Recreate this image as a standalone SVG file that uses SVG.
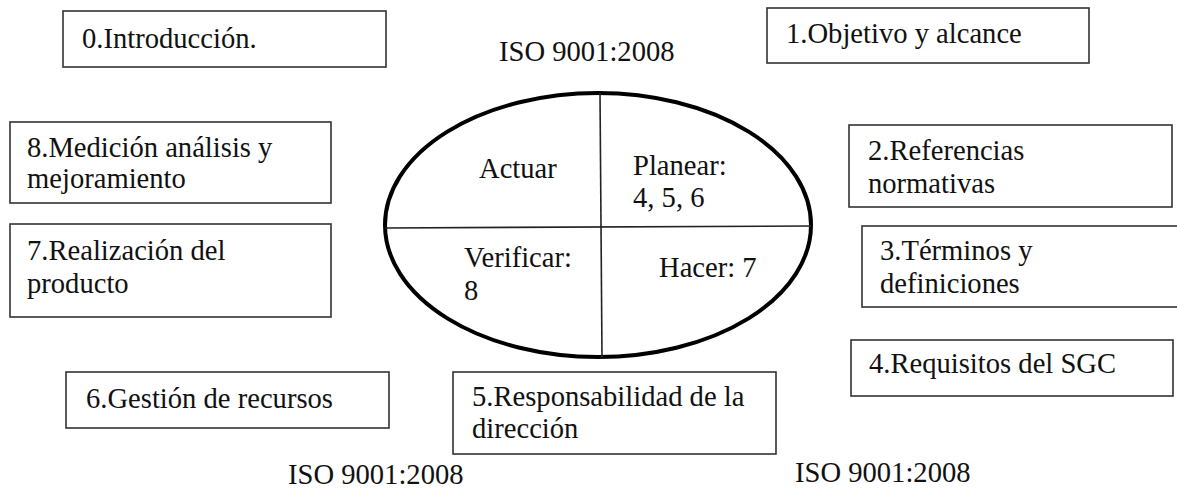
<svg xmlns="http://www.w3.org/2000/svg" width="1177" height="491" viewBox="0 0 1177 491">
<style>
.box{fill:#fff;stroke:#333;stroke-width:1.6}
text{font-family:"Liberation Serif","Times New Roman",serif;font-size:28.6px;fill:#111}
.oval{fill:none;stroke:#000;stroke-width:4}
.div{stroke:#222;stroke-width:1.6;fill:none}
</style>
<rect width="1177" height="491" fill="#fff"/>
<text x="499" y="61">ISO 9001:2008</text>
<text x="288" y="484">ISO 9001:2008</text>
<text x="795" y="482">ISO 9001:2008</text>
<g id="pdca">
<ellipse class="oval" cx="598" cy="225" rx="213" ry="132"/>
<g id="connectors">
<line class="div" x1="385" y1="228" x2="811" y2="226"/>
<line class="div" x1="600" y1="93" x2="602" y2="357"/>
</g>
<text x="479" y="178">Actuar</text>
<text x="633" y="175">Planear:</text>
<text x="633" y="207">4, 5, 6</text>
<text x="464" y="267">Verificar:</text>
<text x="464" y="300">8</text>
<text x="659" y="277">Hacer: 7</text>
</g>
<g id="n0"><rect class="box" x="63" y="11" width="323" height="56"/><text x="82" y="48">0.Introducción.</text></g>
<g id="n1"><rect class="box" x="767" y="8" width="322" height="55"/><text x="786" y="43">1.Objetivo y alcance</text></g>
<g id="n2"><rect class="box" x="849" y="125" width="323" height="82"/><text x="868" y="160">2.Referencias</text><text x="868" y="193">normativas</text></g>
<g id="n3"><rect class="box" x="862" y="226" width="330" height="81"/><text x="880" y="260">3.Términos y</text><text x="880" y="293">definiciones</text></g>
<g id="n4"><rect class="box" x="851" y="340" width="322" height="56"/><text x="869" y="373">4.Requisitos del SGC</text></g>
<g id="n5"><rect class="box" x="453" y="372" width="323" height="82"/><text x="472" y="406">5.Responsabilidad de la</text><text x="472" y="438">dirección</text></g>
<g id="n6"><rect class="box" x="66" y="372" width="323" height="56"/><text x="86" y="408">6.Gestión de recursos</text></g>
<g id="n7"><rect class="box" x="10" y="224" width="321" height="93"/><text x="27" y="260">7.Realización del</text><text x="27" y="293">producto</text></g>
<g id="n8"><rect class="box" x="10" y="122" width="321" height="81"/><text x="27" y="157">8.Medición análisis y</text><text x="27" y="188">mejoramiento</text></g>
</svg>
